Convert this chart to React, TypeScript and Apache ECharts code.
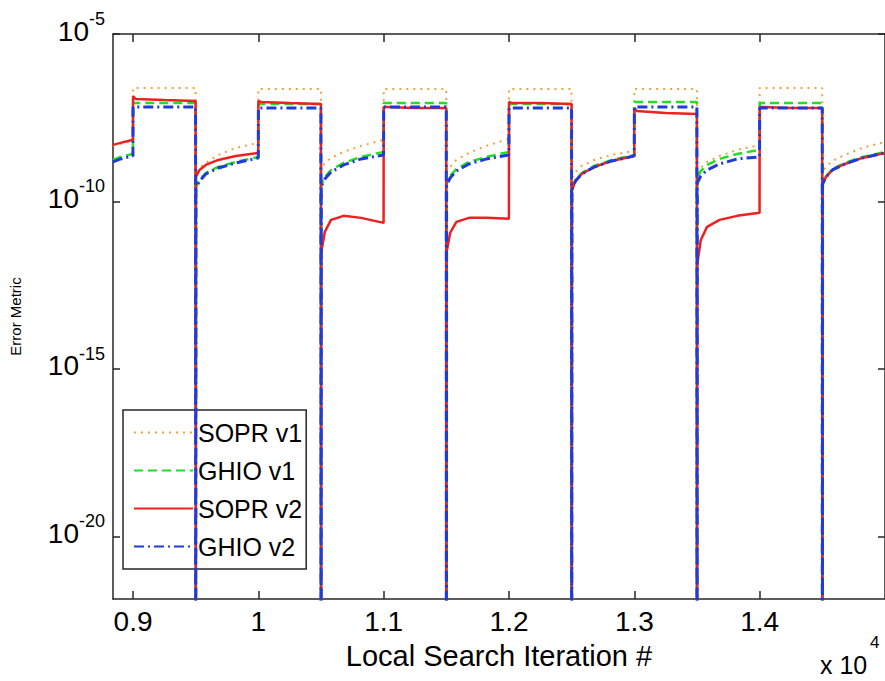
import React, { useEffect, useRef } from "react";
import * as echarts from "echarts";

// x: local search iteration #
const iterations = [
  8840, 8900, 8999,
  9000, 9020, 9250, 9499, 9500, 9502, 9530, 9580, 9680, 9820, 9999,
  10000, 10020, 10250, 10499, 10500, 10502, 10530, 10580, 10680, 10820, 10999,
  11000, 11020, 11250, 11499, 11500, 11502, 11530, 11580, 11680, 11820, 11999,
  12000, 12020, 12250, 12499, 12500, 12502, 12530, 12580, 12680, 12820, 12999,
  13000, 13020, 13250, 13499, 13500, 13502, 13530, 13580, 13680, 13820, 13999,
  14000, 14020, 14250, 14499, 14500, 14502, 14530, 14580, 14680, 14820, 15000,
];

// log10 of the error metric; -40 marks the points where the error drops to zero (off the bottom of the axis)
const sopr1Log = [
  -8.34, -8.28, -8.19,
  -6.61, -6.61, -6.61, -6.61, -40, -9.12, -9.0, -8.85, -8.61, -8.4, -8.25,
  -6.64, -6.64, -6.64, -6.64, -40, -9.0, -8.85, -8.7, -8.52, -8.34, -8.16,
  -6.64, -6.64, -6.64, -6.64, -40, -9.12, -8.97, -8.76, -8.55, -8.34, -8.13,
  -6.64, -6.64, -6.64, -6.64, -40, -9.3, -9.12, -8.94, -8.76, -8.61, -8.49,
  -6.64, -6.64, -6.64, -6.64, -40, -9.21, -9.0, -8.82, -8.64, -8.46, -8.31,
  -6.61, -6.61, -6.61, -6.61, -40, -9.12, -8.97, -8.79, -8.61, -8.4, -8.22,
];

const ghio1Log = [
  -8.76, -8.67, -8.58,
  -7.06, -7.06, -7.06, -7.06, -40, -9.57, -9.36, -9.15, -8.97, -8.82, -8.67,
  -7.09, -7.09, -7.09, -7.09, -40, -9.51, -9.27, -9.06, -8.85, -8.67, -8.52,
  -7.06, -7.06, -7.06, -7.06, -40, -9.48, -9.24, -9.03, -8.82, -8.67, -8.52,
  -7.09, -7.09, -7.09, -7.09, -40, -9.63, -9.36, -9.15, -8.94, -8.76, -8.61,
  -7.03, -7.03, -7.03, -7.03, -40, -9.3, -9.09, -8.91, -8.73, -8.58, -8.46,
  -7.06, -7.06, -7.06, -7.06, -40, -9.45, -9.24, -9.03, -8.85, -8.67, -8.52,
];

const sopr2Log = [
  -8.31, -8.25, -8.16,
  -6.85, -6.94, -6.97, -7.0, -40, -9.27, -9.06, -8.91, -8.76, -8.64, -8.55,
  -7.0, -7.03, -7.06, -7.09, -40, -11.51, -10.91, -10.55, -10.43, -10.49, -10.64,
  -7.18, -7.18, -7.21, -7.21, -40, -11.51, -10.94, -10.61, -10.49, -10.49, -10.52,
  -7.03, -7.06, -7.06, -7.09, -40, -9.66, -9.39, -9.18, -8.97, -8.79, -8.64,
  -7.21, -7.3, -7.36, -7.39, -40, -11.87, -11.15, -10.76, -10.55, -10.43, -10.34,
  -7.18, -7.18, -7.21, -7.21, -40, -9.48, -9.27, -9.06, -8.88, -8.7, -8.55,
];

const ghio2Log = [
  -8.82, -8.73, -8.64,
  -7.18, -7.18, -7.18, -7.18, -40, -9.6, -9.39, -9.18, -9.0, -8.85, -8.7,
  -7.21, -7.21, -7.21, -7.21, -40, -9.54, -9.33, -9.12, -8.91, -8.73, -8.61,
  -7.18, -7.18, -7.18, -7.18, -40, -9.51, -9.3, -9.09, -8.88, -8.73, -8.61,
  -7.21, -7.21, -7.21, -7.21, -40, -9.66, -9.39, -9.18, -8.97, -8.79, -8.64,
  -7.18, -7.18, -7.18, -7.18, -40, -9.45, -9.24, -9.06, -8.88, -8.73, -8.67,
  -7.21, -7.21, -7.21, -7.21, -40, -9.48, -9.27, -9.06, -8.88, -8.7, -8.55,
];

const seriesNames = ["SOPR v1", "GHIO v1", "SOPR v2", "GHIO v2"];
const xTicks = [9000, 10000, 11000, 12000, 13000, 14000];
const xTickLabels = ["0.9", "1", "1.1", "1.2", "1.3", "1.4"];
const yTickExponents = [-20, -15, -10, -5];
const xScaleBase = "x 10";
const xScaleExponent = "4";

const FONT = "'Liberation Sans', Arial, Helvetica, sans-serif";
const AXIS_COLOR = "#262626";

export default function App() {
  const ref = useRef<HTMLDivElement>(null);

  useEffect(() => {
    document.body.style.margin = "0";
    const chart = echarts.init(ref.current!, null, { renderer: "svg" });
    const pair = (ys: number[]) => iterations.map((x, i) => [x, ys[i]]);

    const axisLine = { show: true, lineStyle: { color: AXIS_COLOR, width: 1.5 } };
    const xTick = { show: true, inside: true, length: 8, customValues: xTicks, lineStyle: { color: AXIS_COLOR, width: 1.5 } };
    const yTick = { show: true, inside: true, length: 7, customValues: yTickExponents, lineStyle: { color: AXIS_COLOR, width: 1.5 } };

    const yRich = {
      a: { fontSize: 28, lineHeight: 28, padding: [6, 0, 12, 0], color: "#000", fontFamily: FONT },
      b: { fontSize: 18, lineHeight: 18, padding: [0, 0, 30, 0], color: "#000", fontFamily: FONT },
    };

    const styles = [
      { color: "#F2A23C", width: 2, type: [2, 5] },
      { color: "#1EE01E", width: 2.5, type: [9, 5] },
      { color: "#EE2020", width: 2.5, type: "solid" },
      { color: "#1F3CD8", width: 3, type: [10, 4, 2, 4] },
    ];
    const dataSets = [sopr1Log, ghio1Log, sopr2Log, ghio2Log];

    chart.setOption({
      animation: false,
      backgroundColor: "#ffffff",
      grid: { left: 110, top: 34, right: -3, bottom: 82, containLabel: false },
      xAxis: [
        {
          type: "value",
          position: "bottom",
          min: 8840,
          max: 15000,
          axisLine,
          axisTick: xTick,
          splitLine: { show: false },
          axisLabel: {
            customValues: xTicks,
            formatter: (v: number) => xTickLabels[xTicks.indexOf(v)] ?? "",
            fontSize: 28,
            color: "#000",
            margin: 8,
            fontFamily: FONT,
          },
          name: "Local Search Iteration #",
          nameLocation: "middle",
          nameGap: 42,
          nameTextStyle: { fontSize: 29, color: "#000", fontFamily: FONT },
        },
        {
          type: "value",
          position: "top",
          min: 8840,
          max: 15000,
          axisLine,
          axisTick: xTick,
          axisLabel: { show: false },
          splitLine: { show: false },
        },
      ],
      yAxis: [
        {
          type: "value",
          position: "left",
          min: -21.87,
          max: -5,
          axisLine,
          axisTick: yTick,
          splitLine: { show: false },
          axisLabel: {
            customValues: yTickExponents,
            formatter: (v: number) => `{a|10}{b|${v}}`,
            rich: yRich,
            margin: 8,
          },
          name: "Error Metric",
          nameLocation: "middle",
          nameRotate: 90,
          nameGap: 90,
          nameTextStyle: { fontSize: 15, color: "#000", fontFamily: FONT },
        },
        {
          type: "value",
          position: "right",
          min: -21.87,
          max: -5,
          axisLine,
          axisTick: yTick,
          axisLabel: { show: false },
          splitLine: { show: false },
        },
      ],
      legend: {
        orient: "vertical",
        left: 123,
        top: 410,
        padding: [10, 4, 10, 10],
        itemWidth: 59,
        itemHeight: 14,
        itemGap: 13,
        borderColor: AXIS_COLOR,
        borderWidth: 1.5,
        borderRadius: 0,
        backgroundColor: "#ffffff",
        itemStyle: { opacity: 0 },
        textStyle: { fontSize: 25, color: "#000", fontFamily: FONT },
        data: seriesNames,
      },
      graphic: [
        {
          type: "text",
          left: 820,
          top: 652,
          style: { text: xScaleBase, fontSize: 25, fill: "#000", fontFamily: FONT },
        },
        {
          type: "text",
          left: 870,
          top: 634,
          style: { text: xScaleExponent, fontSize: 17, fill: "#000", fontFamily: FONT },
        },
      ],
      series: seriesNames.map((name, i) => ({
        name,
        type: "line",
        xAxisIndex: 0,
        yAxisIndex: 0,
        data: pair(dataSets[i]),
        symbol: "none",
        showSymbol: false,
        clip: true,
        lineStyle: styles[i],
        itemStyle: { color: styles[i].color },
        z: 2 + i,
      })),
    });

    return () => chart.dispose();
  }, []);

  return <div ref={ref} style={{ width: 885, height: 681 }} />;
}
